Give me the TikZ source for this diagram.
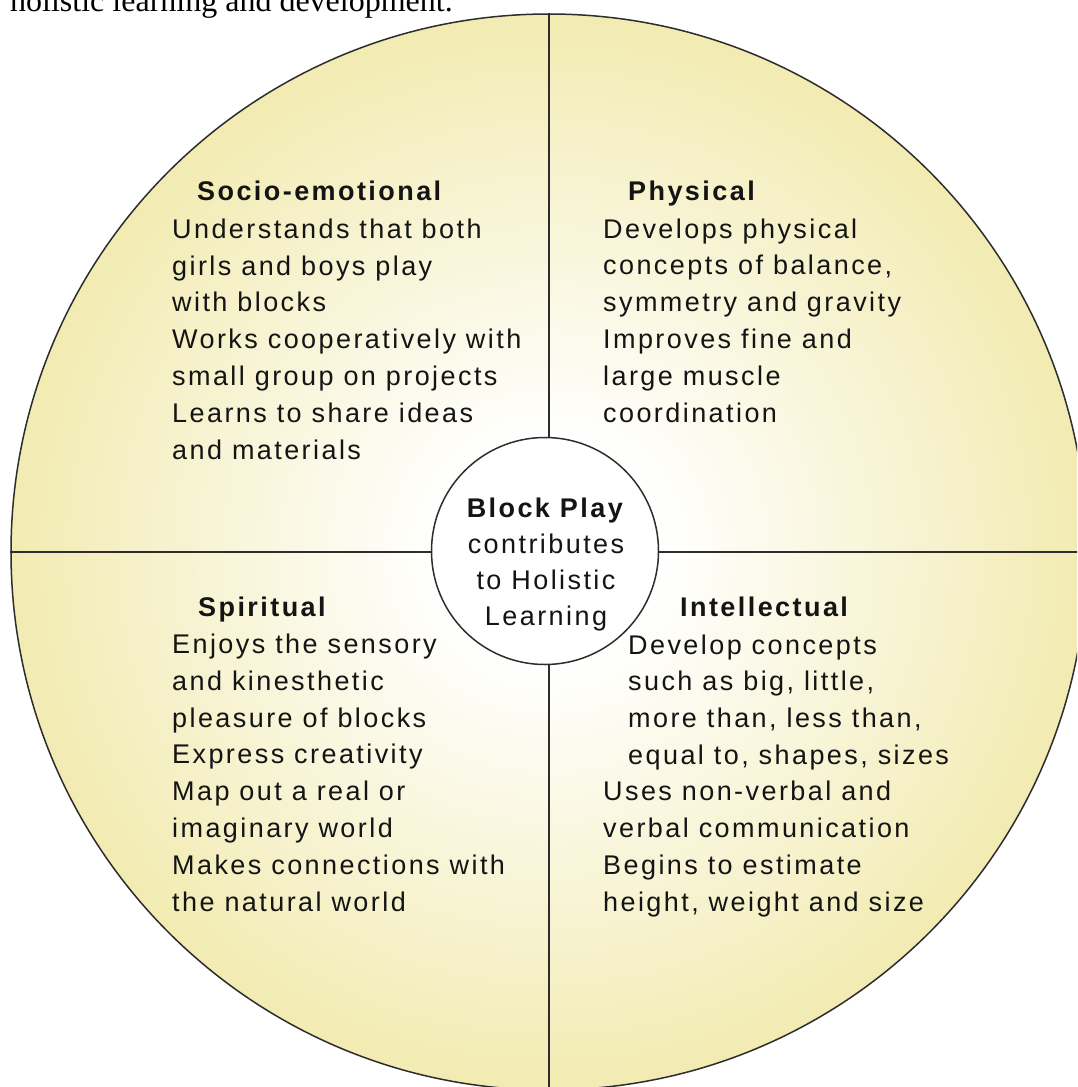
\documentclass[tikz,border=0pt]{standalone}
\usepackage{fontspec}
\setmainfont{Liberation Sans}
\newfontfamily\dfont[LetterSpace=9]{Liberation Sans}
\newfontfamily\capserif{Liberation Serif}
\definecolor{fillyel}{RGB}{242,235,178}
\definecolor{linegray}{RGB}{45,45,45}
\definecolor{textblack}{RGB}{20,20,20}
\pgfdeclareradialshading{quadshade}{\pgfpoint{0bp}{0bp}}{color(0bp)=(white); color(5bp)=(white); color(25bp)=(fillyel); color(50bp)=(fillyel)}
\begin{document}
\begin{tikzpicture}[x=1pt,y=-1pt,
  body/.style={font=\dfont\fontsize{27}{36.8}\selectfont, text=textblack, align=left, anchor=base west, inner sep=0pt},
  head/.style={font=\dfont\bfseries\fontsize{27}{36.8}\selectfont, text=textblack, anchor=base west, inner sep=0pt},
  divider/.style={draw=linegray, line width=2pt},
  rim/.style={draw=linegray, line width=1.5pt}]
\useasboundingbox (0,0) rectangle (1077,1087);
\clip (0,0) rectangle (1077,1087);
\fill[white] (0,0) rectangle (1077,1087);
% caption fragment at top
\node[font=\capserif\fontsize{32}{38}\selectfont, anchor=base west, inner sep=0pt] (caption) at (10,11) {holistic learning and development.};
% outer disc
\node[circle, minimum size=1076pt, inner sep=0pt, shade, shading=quadshade, rim] (outer) at (549,552) {};
\draw[divider] (outer.north) -- (outer.south);
\draw[divider] (outer.west) -- (outer.east);
% hub
\node[circle, minimum size=227pt, inner sep=0pt, fill=white, rim] (hub) at (545,551) {};
% (base anchor of a multi-line node = baseline of its last line)
\node[font=\dfont\fontsize{27}{36}\selectfont, text=textblack, align=center, anchor=base, inner sep=0pt] (hubtext) at (546,625)
  {\textbf{Block Play}\\contributes\\to Holistic\\Learning};
% Socio-emotional
\node[head] (sochead) at (197,200) {Socio-emotional};
\node[body] (socbody) at (172,459) {Understands that both\\girls and boys play\\with blocks\\Works cooperatively with\\small group on projects\\Learns to share ideas\\and materials};
% Physical
\node[head] (phyhead) at (628,200) {Physical};
\node[body] (phybody) at (603,422) {Develops physical\\concepts of balance,\\symmetry and gravity\\Improves fine and\\large muscle\\coordination};
% Spiritual
\node[head] (spihead) at (198,616) {Spiritual};
\node[body] (spibody) at (172,911) {Enjoys the sensory\\and kinesthetic\\pleasure of blocks\\Express creativity\\Map out a real or\\imaginary world\\Makes connections with\\the natural world};
% Intellectual
\node[head] (inthead) at (680,616) {Intellectual};
\node[body] (intbodya) at (628,764.5) {Develop concepts\\such as big, little,\\more than, less than,\\equal to, shapes, sizes};
\node[body] (intbodyb) at (603,911) {Uses non-verbal and\\verbal communication\\Begins to estimate\\height, weight and size};
\end{tikzpicture}
\end{document}
